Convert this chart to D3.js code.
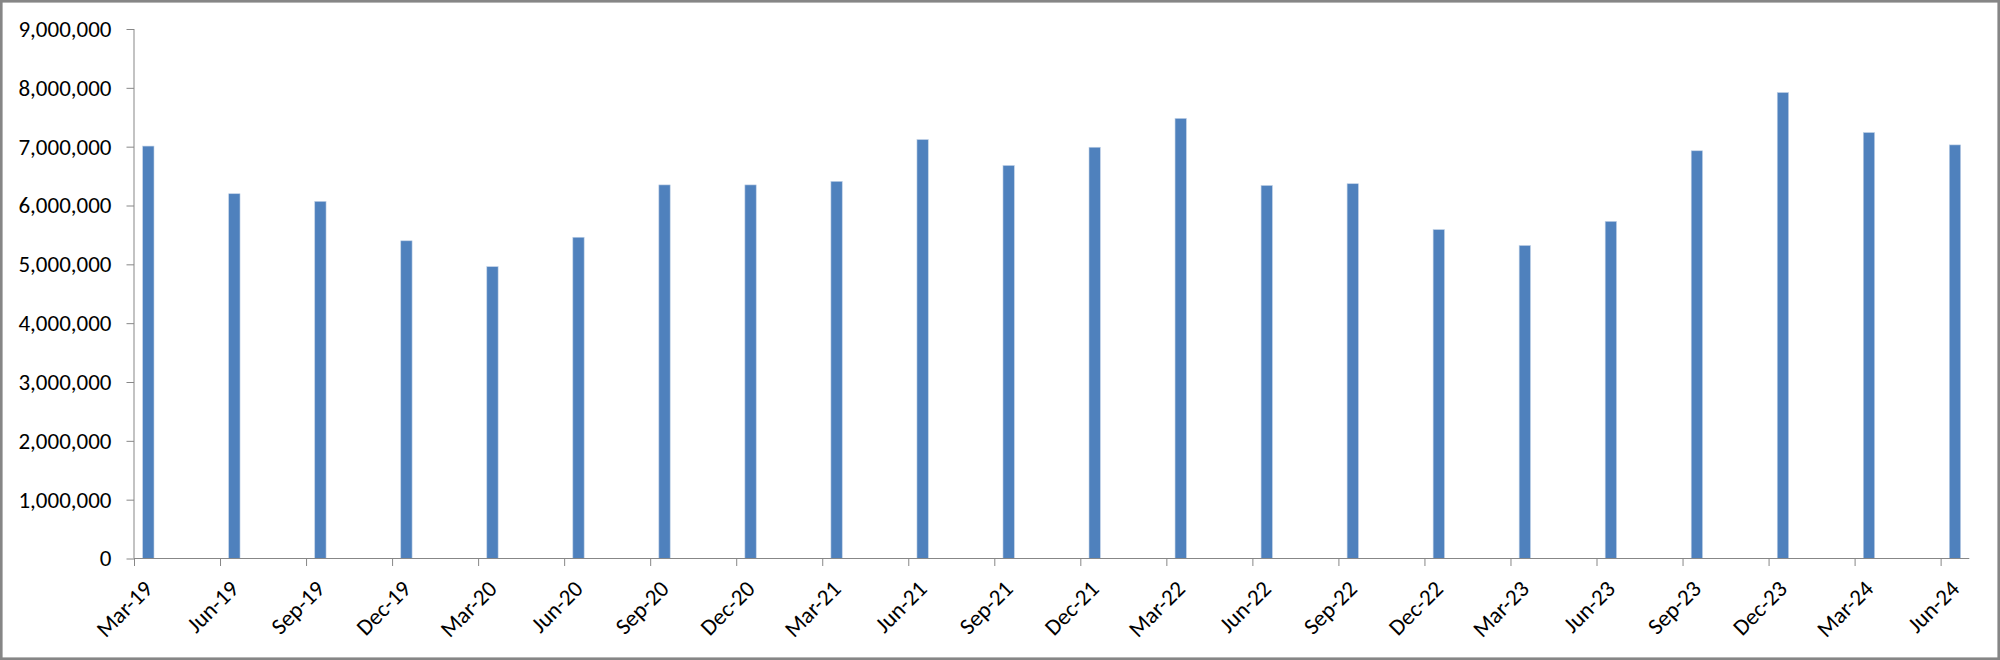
<!DOCTYPE html>
<html>
<head>
<meta charset="utf-8">
<script src="https://cdn.jsdelivr.net/npm/d3@7"></script>
<style>
  html, body { margin: 0; padding: 0; background: #fff; }
  svg { display: block; }
  text { font-family: Carlito, Calibri, Lato, "Liberation Sans", sans-serif; fill: #000; }
</style>
</head>
<body>
<svg id="chart" width="2000" height="660"></svg>
<script>
// ---- data ----
const categories = ["Mar-19","Jun-19","Sep-19","Dec-19","Mar-20","Jun-20","Sep-20","Dec-20",
  "Mar-21","Jun-21","Sep-21","Dec-21","Mar-22","Jun-22","Sep-22","Dec-22",
  "Mar-23","Jun-23","Sep-23","Dec-23","Mar-24","Jun-24"];
const values = [7010000, 6200000, 6070000, 5400000, 4960000, 5460000, 6350000, 6350000,
  6410000, 7120000, 6680000, 6990000, 7480000, 6340000, 6370000, 5590000,
  5320000, 5730000, 6930000, 7920000, 7240000, 7030000];
const yTicks = [0, 1000000, 2000000, 3000000, 4000000, 5000000, 6000000, 7000000, 8000000, 9000000];
const monthsPerCategory = 3;
const totalMonths = 64;

// ---- layout ----
(function () {
const svg = d3.select("#chart");
const W = 2000, H = 660;
const mLeft = 134, mRight = 1969.3, mTop = 29, mBottom = 558.5;
const fs = 23;

svg.append("rect").attr("x", 1.3).attr("y", 1.3).attr("width", W - 2.6).attr("height", H - 2.6)
  .attr("fill", "#fff").attr("stroke", "#868686").attr("stroke-width", 2.6);

const x = d3.scaleLinear().domain([0, totalMonths]).range([mLeft, mRight]);
const y = d3.scaleLinear().domain([0, 9000000]).range([mBottom, mTop]);
const barW = 11.3;

// bars
svg.append("g").selectAll("rect").data(values).join("rect")
  .attr("x", (d, i) => x(i * monthsPerCategory + 0.5) - barW / 2)
  .attr("y", d => y(d))
  .attr("width", barW)
  .attr("height", d => y(0) - y(d))
  .attr("fill", "#4F81BD")
  .attr("stroke", "#BFD0E6").attr("stroke-width", 0.6);

// y axis
const yAxis = d3.axisLeft(y).tickValues(yTicks).tickSize(7.5).tickPadding(15)
  .tickFormat(d3.format(","));
const gy = svg.append("g").attr("transform", `translate(${mLeft},0)`).call(yAxis);
gy.select(".domain").attr("stroke", "#878787").attr("d", `M0,${mBottom}V${mTop}`);
gy.selectAll(".tick line").attr("stroke", "#878787");
gy.selectAll(".tick text").attr("font-size", fs).attr("fill", "#000")
  .style("font-family", "Carlito, Calibri, Lato, sans-serif");

// x axis
const tickMonths = categories.map((c, i) => i * monthsPerCategory);
const xAxis = d3.axisBottom(x).tickValues(tickMonths).tickSize(7.5).tickFormat("");
const gx = svg.append("g").attr("transform", `translate(0,${mBottom})`).call(xAxis);
gx.select(".domain").attr("stroke", "#878787").attr("d", `M${mLeft},0H${mRight}`);
gx.selectAll(".tick line").attr("stroke", "#878787");

// rotated labels
svg.append("g").selectAll("text").data(categories).join("text")
  .attr("transform", (d, i) => `translate(${x(i * monthsPerCategory + 0.5)},${mBottom + 26}) rotate(-45)`)
  .attr("text-anchor", "end")
  .attr("dy", "0.35em")
  .attr("font-size", fs)
  .text(d => d);
})();
</script>
</body>
</html>
